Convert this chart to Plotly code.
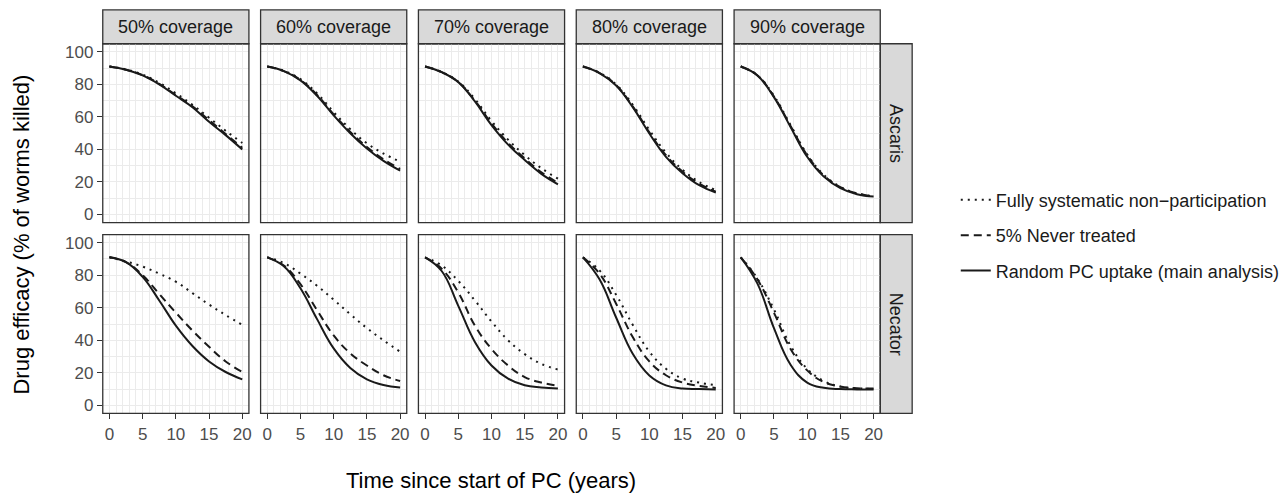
import plotly.graph_objects as go

# ---------------- data ----------------
years = [0, 2.5, 5, 7.5, 10, 12.5, 15, 17.5, 20]
coverages = ["50% coverage", "60% coverage", "70% coverage", "80% coverage", "90% coverage"]
species = ["Ascaris", "Necator"]
scenario_names = ["Fully systematic non\u2212participation", "5% Never treated", "Random PC uptake (main analysis)"]

# Ascaris
asc_dotted = [
    [91, 89.2, 86, 81, 74.5, 67.5, 59.5, 51.5, 44],
    [91, 88.4, 83.2, 74.5, 63, 52.5, 43.8, 37.5, 32.5],
    [91, 87.6, 81.7, 71, 57.5, 46, 36.5, 28.5, 22],
    [91, 87.2, 80, 67.5, 52, 38, 27.5, 20, 15],
    [91, 85.7, 73, 55, 37, 24.5, 17, 13, 11.3],
]
asc_dashed = [
    [91, 89, 85.7, 80.3, 73.5, 66.5, 58, 49.5, 41],
    [91, 88.2, 82.7, 73.5, 61.5, 50.8, 41.5, 34, 28],
    [91, 87.5, 81.5, 70, 56, 44, 34.5, 26, 19.5],
    [91, 87, 79.5, 66.5, 50.5, 36.5, 26.3, 19, 14],
    [91, 85.6, 72.5, 54.5, 36.5, 24, 16.8, 13, 11.2],
]
asc_solid = [
    [91, 89, 85.5, 80, 73, 66, 57, 48.8, 40],
    [91, 88.2, 82.5, 73, 61, 50, 40.6, 33, 27],
    [91, 87.5, 81.4, 69.5, 55, 43, 33.5, 25, 18.6],
    [91, 87, 79.3, 66, 49.8, 35.5, 25.4, 18, 13.5],
    [91, 85.5, 72.2, 53.8, 35.5, 23.3, 16.2, 12.5, 11],
]
# Necator
nec_dotted = [
    [91, 88.5, 85.3, 81, 76, 69, 62, 55.5, 49.5],
    [91, 87.5, 81, 73.5, 65, 56, 47.5, 40, 33],
    [91, 86, 76.5, 64.5, 51.5, 40, 31.5, 25.5, 22],
    [91, 83, 68, 49.5, 33, 22.5, 16.5, 14, 12.5],
    [91, 78, 59, 36.7, 22.5, 15, 11.5, 10.5, 10],
]
nec_dashed = [
    [91, 88, 80, 68.5, 57, 46, 36, 27, 20.5],
    [91, 86, 74.5, 58.5, 43, 32, 24.5, 18.5, 15],
    [91, 84, 69.4, 49, 34.7, 24.5, 17.4, 14, 12],
    [91, 81, 62.5, 42, 27, 18.5, 14, 12, 10.7],
    [91, 77.5, 57, 34.7, 21.5, 14.3, 11.6, 10.5, 10.3],
]
nec_solid = [
    [91, 88, 79, 64.5, 49, 36.5, 27, 20.5, 16],
    [91, 85.5, 72, 53, 35, 23, 16, 12.5, 11],
    [91, 82.6, 61.2, 39, 24.5, 16.4, 12.3, 11, 10.3],
    [91, 77.5, 54, 31.7, 18.4, 12.3, 10.3, 10, 9.7],
    [91, 75, 47.5, 25, 14, 10.8, 10, 9.8, 9.7],
]

x_ticks = [0, 5, 10, 15, 20]
y_ticks = [0, 20, 40, 60, 80, 100]

# ---------------- layout geometry ----------------
W, H = 1288, 493
panel_left0 = 103
panel_w = 146.5
panel_step = 158.2
row_tops = [43, 235]
panel_h = 180
strip_h = 34
rstrip_w = 32

LINE = "#1a1a1a"
dashes = ["2px,5px", "8px,5px", "solid"]
data = {
    0: [asc_dotted, asc_dashed, asc_solid],
    1: [nec_dotted, nec_dashed, nec_solid],
}

fig = go.Figure()
layout = {}
shapes = []
annotations = []

for r in range(2):
    for c in range(5):
        idx = r * 5 + c + 1
        xa = "x" if idx == 1 else f"x{idx}"
        ya = "y" if idx == 1 else f"y{idx}"
        x0 = panel_left0 + c * panel_step
        x1 = x0 + panel_w
        top = row_tops[r]
        bot = top + panel_h
        layout["xaxis" if idx == 1 else f"xaxis{idx}"] = dict(
            domain=[x0 / W, x1 / W], anchor=ya, range=[-1, 21],
            tickvals=x_ticks, ticktext=[str(v) for v in x_ticks],
            showticklabels=(r == 1), ticks="outside" if r == 1 else "",
            ticklen=5, tickcolor="#333333", tickwidth=1,
            tickfont=dict(size=17, color="#4D4D4D"),
            showgrid=True, gridcolor="#EBEBEB", gridwidth=1.2,
            minor=dict(dtick=1, tick0=0, showgrid=True, gridcolor="#EBEBEB", gridwidth=0.6),
            zeroline=False, showline=False, fixedrange=True,
        )
        layout["yaxis" if idx == 1 else f"yaxis{idx}"] = dict(
            domain=[(H - bot) / H, (H - top) / H], anchor=xa, range=[-5, 105],
            tickvals=y_ticks, ticktext=[str(v) for v in y_ticks],
            showticklabels=(c == 0), ticks="outside" if c == 0 else "",
            ticklen=5, tickcolor="#333333", tickwidth=1,
            tickfont=dict(size=17, color="#4D4D4D"),
            showgrid=True, gridcolor="#EBEBEB", gridwidth=1.2,
            minor=dict(dtick=10, tick0=0, showgrid=True, gridcolor="#EBEBEB", gridwidth=0.6),
            zeroline=False, showline=False, fixedrange=True,
        )
        for s in range(3):
            fig.add_trace(go.Scatter(
                x=years, y=data[r][s][c], mode="lines",
                line=dict(color=LINE, width=2, dash=dashes[s], shape="spline", smoothing=1.2),
                name=scenario_names[s], legendgroup=f"g{s}",
                showlegend=(idx == 1), xaxis=xa, yaxis=ya, hoverinfo="skip",
                legendrank=s + 1,
            ))
        # panel border
        shapes.append(dict(type="rect", xref="paper", yref="paper",
                           x0=x0 / W, x1=x1 / W, y0=(H - bot) / H, y1=(H - top) / H,
                           line=dict(color="#333333", width=1.3), fillcolor="rgba(0,0,0,0)", layer="above"))
        # top strips
        if r == 0:
            shapes.append(dict(type="rect", xref="paper", yref="paper",
                               x0=x0 / W, x1=x1 / W, y0=(H - top) / H, y1=(H - top + strip_h) / H,
                               line=dict(color="#333333", width=1.3), fillcolor="#D9D9D9", layer="below"))
            annotations.append(dict(text=coverages[c], xref="paper", yref="paper",
                                    x=(x0 + x1) / 2 / W, y=(H - top + strip_h / 2) / H,
                                    showarrow=False, font=dict(size=18, color="#1A1A1A"),
                                    xanchor="center", yanchor="middle"))
        # right strips
        if c == 4:
            shapes.append(dict(type="rect", xref="paper", yref="paper",
                               x0=x1 / W, x1=(x1 + rstrip_w) / W, y0=(H - bot) / H, y1=(H - top) / H,
                               line=dict(color="#333333", width=1.3), fillcolor="#D9D9D9", layer="below"))
            annotations.append(dict(text=species[r], xref="paper", yref="paper",
                                    x=(x1 + rstrip_w / 2) / W, y=(H - (top + bot) / 2) / H,
                                    showarrow=False, textangle=90, font=dict(size=18, color="#1A1A1A"),
                                    xanchor="center", yanchor="middle"))

# axis titles
annotations.append(dict(text="Time since start of PC (years)", xref="paper", yref="paper",
                        x=492 / W, y=(H - 482) / H, showarrow=False,
                        font=dict(size=22, color="#000000"), xanchor="center", yanchor="middle"))
annotations.append(dict(text="Drug efficacy (% of worms killed)", xref="paper", yref="paper",
                        x=22 / W, y=(H - 235) / H, showarrow=False, textangle=-90,
                        font=dict(size=22, color="#000000"), xanchor="center", yanchor="middle"))

fig.update_layout(
    **layout,
    width=W, height=H,
    margin=dict(l=0, r=0, t=0, b=0),
    paper_bgcolor="white", plot_bgcolor="white",
    font=dict(family="Liberation Sans, Arial, sans-serif", color="#000000"),
    shapes=shapes, annotations=annotations,
    showlegend=True,
    legend=dict(x=958 / W, y=(H - 236) / H, xanchor="left", yanchor="middle",
                font=dict(size=18, color="#1A1A1A"), tracegroupgap=9,
                bgcolor="rgba(0,0,0,0)", itemwidth=30, traceorder="grouped"),
)

fig.write_html("out.html")
